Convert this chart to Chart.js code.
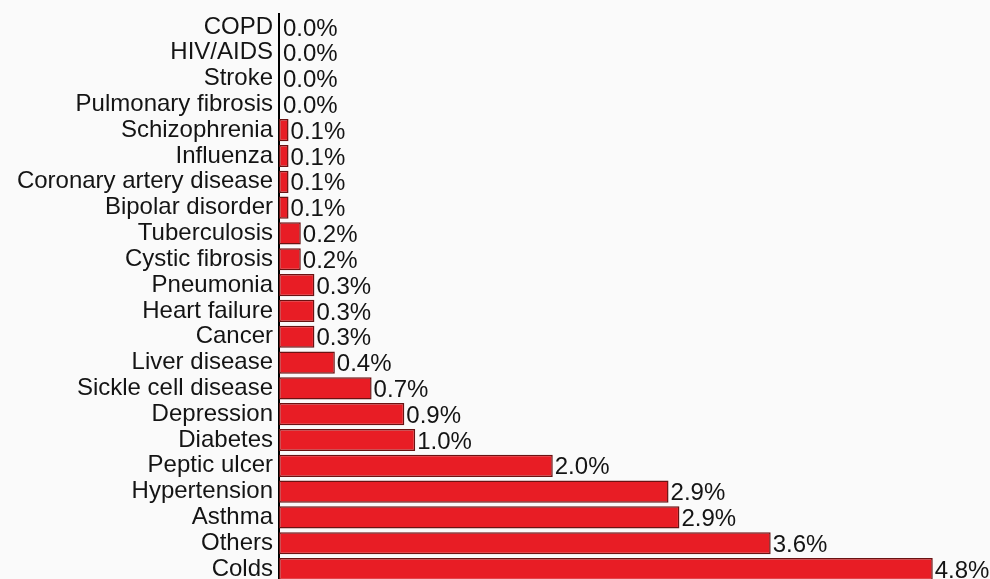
<!DOCTYPE html>
<html>
<head>
<meta charset="utf-8">
<script src="https://cdn.jsdelivr.net/npm/chart.js@4/dist/chart.umd.min.js"></script>
<style>
  html, body { margin: 0; padding: 0; background: #fafafa; overflow: hidden; }
  #wrap { width: 990px; height: 582px; position: relative; }
</style>
</head>
<body>
<div id="wrap"><canvas id="chart"></canvas></div>
<script>
// categories, top to bottom
const diseases = ['COPD', 'HIV/AIDS', 'Stroke', 'Pulmonary fibrosis', 'Schizophrenia', 'Influenza',
    'Coronary artery disease', 'Bipolar disorder', 'Tuberculosis', 'Cystic fibrosis', 'Pneumonia',
    'Heart failure', 'Cancer', 'Liver disease', 'Sickle cell disease', 'Depression', 'Diabetes',
    'Peptic ulcer', 'Hypertension', 'Asthma', 'Others', 'Colds'];

// percentages (bar lengths)
const percents = [0, 0, 0, 0, 0.07, 0.07, 0.07, 0.07, 0.16, 0.16, 0.26, 0.26, 0.26, 0.41,
    0.68, 0.92, 1.0, 2.01, 2.86, 2.94, 3.61, 4.8];

const fontFamily = '"Liberation Sans", Arial, Helvetica, sans-serif';
const textColor = '#141414';

// draws "x.x%" next to each bar
const valueLabels = {
    id: 'valueLabels',
    afterDatasetsDraw(chart) {
        const ctx = chart.ctx;
        const meta = chart.getDatasetMeta(0);
        const left = chart.chartArea.left;
        ctx.save();
        ctx.font = '24px ' + fontFamily;
        ctx.fillStyle = textColor;
        ctx.textBaseline = 'middle';
        ctx.textAlign = 'left';
        meta.data.forEach((bar, i) => {
            let x = Math.max(bar.x, left + 2) + 2;
            ctx.fillText(percents[i].toFixed(1) + '%', x, bar.y + 2);
        });
        ctx.restore();
    }
};

new Chart(document.getElementById('chart'), {
    type: 'bar',
    data: {
        labels: diseases,
        datasets: [{
            data: percents,
            backgroundColor: '#e81d25',
            borderColor: '#6a1212',
            borderWidth: 1.5,
            borderSkipped: false,
            barPercentage: 0.86,
            categoryPercentage: 1
        }]
    },
    options: {
        indexAxis: 'y',
        responsive: true,
        maintainAspectRatio: false,
        animation: false,
        layout: { padding: { top: 14, right: 30, left: 0, bottom: 0 } },
        plugins: {
            legend: { display: false },
            tooltip: { enabled: false }
        },
        scales: {
            x: {
                display: false,
                min: 0,
                max: 5
            },
            y: {
                grid: { display: false, drawTicks: false },
                border: { display: true, color: '#000', width: 2 },
                ticks: {
                    color: textColor,
                    padding: 6,
                    font: { size: 24, family: fontFamily },
                    autoSkip: false
                },
                afterFit: (scale) => {
                    scale.width = 279;
                    scale.paddingTop = 0;
                    scale.paddingBottom = 0;
                }
            }
        }
    },
    plugins: [valueLabels]
});
</script>
</body>
</html>
